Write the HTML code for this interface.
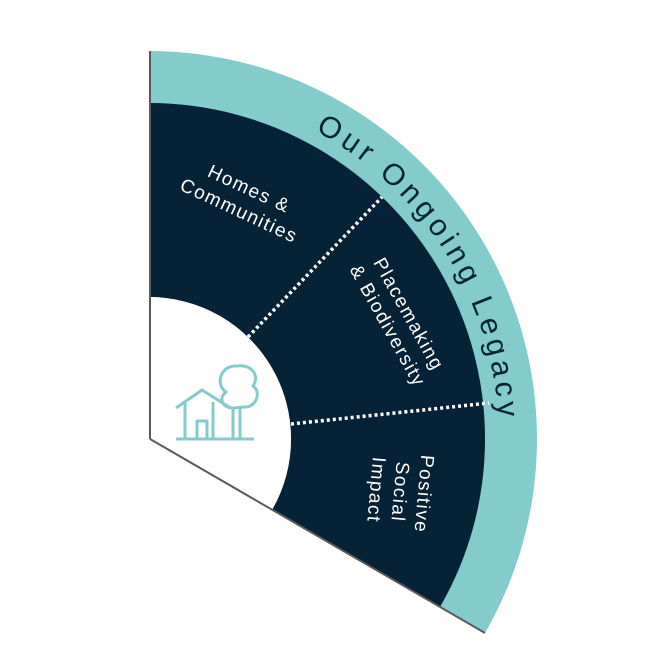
<!DOCTYPE html>
<html><head><style>html,body{margin:0;padding:0;background:#fff}svg{display:block}</style></head>
<body>
<svg width="669" height="669" viewBox="0 0 669 669" xmlns="http://www.w3.org/2000/svg">
<defs>
<path id="arc" d="M 308,127 A 350 350 0 0 1 499,439"/>
</defs>
<path d="M149,51 A388 388 0 0 1 485,633 L149,439 Z" fill="#84cbcc"/>
<path d="M149,103 A336 336 0 0 1 440,607 L272,510 A142 142 0 0 0 149,297 Z" fill="#052236"/>
<path d="M149,297 A142 142 0 0 1 272,510 L149,439 Z" fill="#fff"/>
<line x1="150" y1="51" x2="150" y2="439" stroke="#5a5a5a" stroke-width="2"/>
<line x1="150" y1="439" x2="485" y2="633" stroke="#5a5a5a" stroke-width="2"/>
<line x1="248" y1="337" x2="382" y2="197" stroke="#fff" stroke-width="3.5" stroke-dasharray="3 3"/>
<line x1="291" y1="424" x2="489" y2="403" stroke="#fff" stroke-width="3.5" stroke-dasharray="3 3"/>
<text font-family="Liberation Sans, sans-serif" font-size="30" fill="#052236"><textPath href="#arc" startOffset="8" textLength="355" lengthAdjust="spacing">Our Ongoing Legacy</textPath></text>
<g font-family="Liberation Sans, sans-serif" font-size="19" fill="#fff" text-anchor="middle" letter-spacing="1.5">
<text transform="translate(244,200) rotate(25)"><tspan x="0" y="-6">Homes &amp;</tspan><tspan x="0" y="18">Communities</tspan></text>
<text transform="translate(398,320) rotate(61)"><tspan x="0" y="-6">Placemaking</tspan><tspan x="0" y="18">&amp; Biodiversity</tspan></text>
<text transform="translate(400,492) rotate(95)"><tspan x="0" y="-18">Positive</tspan><tspan x="0" y="6">Social</tspan><tspan x="0" y="30">Impact</tspan></text>
</g>
<g fill="none" stroke="#84cbcc" stroke-width="3" stroke-linejoin="round">
<path d="M176,408 L202,390 L229,407"/>
<path d="M185,402 V438 M213,402 V438"/>
<path d="M197,438 V421 H207 V438"/>
<line x1="176" y1="439" x2="254" y2="439"/>
<path d="M233,438 V408 C222,408 218,398 226,392 C215,385 220,365 237,366 C252,364 260,376 253,386 C262,392 256,408 244,407 C240,407 236,408 233,408"/>
<path d="M240,438 V407"/>
</g>
</svg>
</body></html>
